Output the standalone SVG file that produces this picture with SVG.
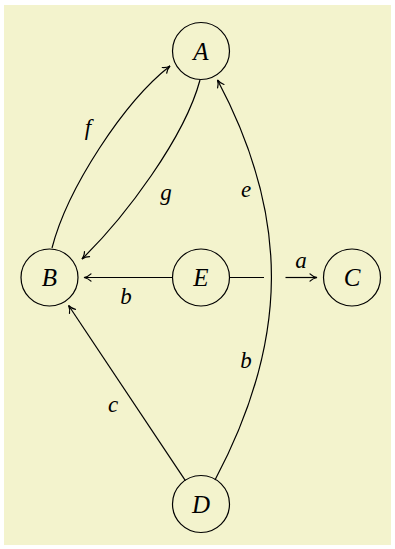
<svg xmlns="http://www.w3.org/2000/svg" width="395" height="549" viewBox="0 0 395 549">
<style>
.node circle{fill:none;stroke:#000;stroke-width:1.2}
text{font-family:'Liberation Serif',serif;font-style:italic;font-size:25px;fill:#000;text-anchor:middle}
.lbl{font-size:23px}
.edge{fill:none;stroke:#000;stroke-width:1.2}
</style>
<defs>
<marker id="arr" markerUnits="userSpaceOnUse" viewBox="-9 -5 10 10" refX="0" refY="0" markerWidth="10" markerHeight="10" orient="auto" overflow="visible">
<path d="M-7,-3.6 C-5,-1.6 -2,-0.4 0,0 C-2,0.4 -5,1.6 -7,3.6" fill="none" stroke="#000" stroke-width="1.2" stroke-linecap="round"/>
</marker>
</defs>
<rect x="4" y="5" width="387" height="540" fill="#f3f3cd"/>
<g id="connectors">
<path class="edge" d="M230,277.5 L264,277.5"/>
<path class="edge" d="M285.5,277.5 L317,277.5" marker-end="url(#arr)"/>
<path class="edge" d="M172,277.5 L84,277.5" marker-end="url(#arr)"/>
<path class="edge" d="M185.4,480.7 L68.6,305.5" marker-end="url(#arr)"/>
<path class="edge" d="M52,248 C67.5,188 124,102 170,66" marker-end="url(#arr)"/>
<path class="edge" d="M200,80 C184.5,138 125,217 82,259" marker-end="url(#arr)"/>
<path class="edge" d="M215,480 C289.6,339.6 290,216.4 217.5,80" marker-end="url(#arr)"/>
<text class="lbl" x="88" y="135">f</text>
<text class="lbl" x="166" y="200">g</text>
<text class="lbl" x="246" y="197">e</text>
<text class="lbl" x="301" y="268">a</text>
<text class="lbl" x="126" y="304">b</text>
<text class="lbl" x="246" y="368">b</text>
<text class="lbl" x="113" y="412">c</text>
</g>
<g id="A" class="node"><circle cx="201" cy="51" r="28.5"/><text x="201" y="59.5">A</text></g>
<g id="B" class="node"><circle cx="49.5" cy="277.5" r="28.5"/><text x="49.5" y="286">B</text></g>
<g id="E" class="node"><circle cx="201" cy="277.5" r="28.5"/><text x="201" y="286">E</text></g>
<g id="C" class="node"><circle cx="352" cy="277.5" r="28.5"/><text x="352" y="286">C</text></g>
<g id="D" class="node"><circle cx="201" cy="504" r="28.5"/><text x="201" y="512.5">D</text></g>
</svg>
